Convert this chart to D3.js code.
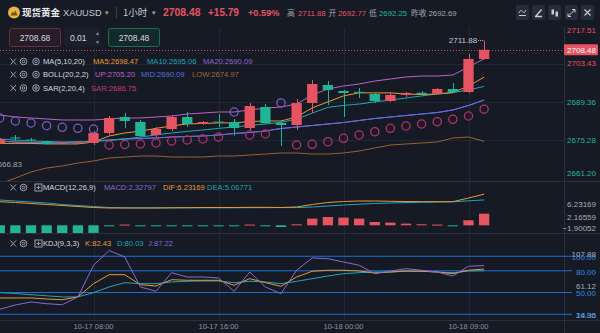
<!DOCTYPE html>
<html><head><meta charset="utf-8">
<script src="https://cdn.jsdelivr.net/npm/d3@7"></script>
<style>
html,body{margin:0;padding:0;background:#161a25;}
svg{display:block;font-family:"Liberation Sans",Arial,"Noto Sans CJK SC",sans-serif;}
</style></head>
<body><svg id="c" width="600" height="333"></svg>
<script>
// ---- hourly XAUUSD candles ----
const times = ["10-17 01:00","10-17 02:00","10-17 03:00","10-17 04:00","10-17 06:00","10-17 07:00",
  "10-17 08:00","10-17 09:00","10-17 10:00","10-17 11:00","10-17 12:00","10-17 13:00","10-17 14:00",
  "10-17 15:00","10-17 16:00","10-17 17:00","10-17 18:00","10-17 19:00","10-17 20:00","10-17 21:00",
  "10-17 22:00","10-17 23:00","10-18 00:00","10-18 01:00","10-18 02:00","10-18 03:00","10-18 04:00",
  "10-18 06:00","10-18 07:00","10-18 08:00","10-18 09:00","10-18 10:00"];
const opens  = [2674.34,2676.36,2675.60,2674.90,2674.10,2674.40,2674.34,2678.00,2683.87,2682.03,2677.27,2679.47,2683.87,2681.30,2682.20,2682.03,2679.84,2687.53,2681.67,2680.94,2688.99,2695.59,2693.39,2693.10,2692.29,2689.73,2691.95,2692.77,2692.40,2694.12,2693.02,2705.11];
const highs  = [2676.17,2677.27,2676.20,2675.20,2674.80,2675.00,2678.74,2684.23,2685.33,2682.77,2680.20,2684.60,2685.70,2682.40,2684.96,2683.13,2688.99,2688.63,2682.77,2690.46,2697.42,2697.05,2693.76,2694.49,2692.66,2693.02,2693.02,2693.30,2694.50,2696.32,2706.94,2711.88];
const lows   = [2673.98,2675.07,2674.90,2673.80,2673.80,2674.00,2673.61,2677.27,2679.84,2676.54,2676.54,2678.74,2680.20,2680.94,2680.20,2677.00,2679.10,2681.30,2673.24,2679.10,2685.33,2688.26,2683.87,2690.83,2688.99,2689.36,2691.20,2692.25,2692.30,2692.60,2692.60,2704.90];
const closes = [2675.81,2676.00,2675.30,2674.00,2674.40,2674.50,2678.00,2683.50,2682.40,2676.91,2679.47,2683.87,2681.30,2682.03,2681.85,2679.84,2687.89,2681.67,2680.94,2688.99,2695.95,2693.76,2692.66,2692.85,2689.73,2691.92,2692.69,2692.30,2694.12,2693.02,2705.11,2708.48];

// ---- overlays ----
const ma5  = [2674.2,2674.2,2674.2,2674.0,2674.0,2674.0,2674.7,2676.9,2678.0,2678.7,2679.7,2680.6,2681.3,2681.5,2681.7,2681.7,2682.2,2682.4,2682.4,2683.9,2687.2,2689.4,2691.6,2692.7,2692.7,2692.7,2692.3,2692.1,2692.3,2692.8,2695.2,2698.47];
const ma10 = [2675.8,2675.4,2675.1,2674.9,2674.7,2674.7,2674.9,2675.3,2675.8,2676.5,2677.3,2678.0,2678.6,2679.1,2679.7,2680.2,2680.8,2681.3,2681.9,2683.1,2685.3,2687.4,2688.1,2688.6,2689.4,2690.1,2690.8,2691.6,2692.3,2692.8,2693.8,2695.06];
const ma20 = [2675.07,2674.71,2674.52,2674.34,2674.52,2674.71,2675.07,2675.44,2675.81,2675.99,2676.17,2676.54,2676.72,2676.91,2677.27,2677.82,2678.19,2678.74,2679.65,2680.20,2680.75,2681.30,2681.85,2682.58,2683.32,2683.87,2684.42,2684.96,2685.51,2686.43,2688.08,2690.09];
const bollMid = ma20;
const bollUp  = [2684.60,2683.87,2683.50,2683.13,2682.77,2682.77,2682.77,2683.13,2683.50,2683.50,2683.87,2684.23,2684.96,2685.33,2685.70,2685.70,2686.43,2687.16,2687.53,2688.63,2691.92,2694.12,2695.22,2695.95,2697.05,2697.78,2698.52,2698.88,2698.88,2699.25,2702.18,2705.20];
const bollLow = [2659.32,2661.52,2663.72,2665.18,2665.92,2667.02,2667.75,2668.85,2669.21,2669.58,2669.58,2669.21,2669.21,2669.21,2669.58,2669.58,2669.95,2670.31,2670.68,2670.68,2670.31,2670.31,2670.68,2671.41,2672.51,2673.61,2673.98,2674.34,2674.71,2676.17,2676.54,2674.97];
const sar = [2683.50,2682.40,2681.67,2680.68,2680.09,2679.73,2679.47,2673.61,2673.79,2673.98,2674.34,2675.07,2675.44,2675.81,2676.54,2685.70,2677.27,2677.64,2689.00,2673.61,2673.87,2674.82,2676.06,2677.27,2678.48,2679.73,2680.57,2681.30,2682.14,2683.02,2684.23,2686.75];

// ---- MACD(12,26,9) ----
const macdHist = [-1.62,-1.58,-1.55,-1.57,-1.60,-1.56,-1.52,-0.15,0.15,-0.15,-0.15,-0.10,-0.10,-0.10,-0.10,-0.15,0.15,-0.10,-0.35,0.20,1.34,1.66,1.54,1.34,0.66,0.54,0.34,0.20,0.14,-0.20,1.00,2.32797];
const dif = [4.72,4.56,4.36,4.16,3.96,3.76,3.56,3.46,3.46,3.46,3.46,3.50,3.52,3.56,3.56,3.56,3.60,3.60,3.56,3.66,4.16,4.56,4.76,4.86,4.86,4.80,4.76,4.72,4.72,4.72,5.46,6.23169];
const dea = [5.06,4.86,4.66,4.46,4.16,3.96,3.76,3.56,3.50,3.50,3.50,3.50,3.50,3.50,3.50,3.51,3.52,3.53,3.54,3.54,3.66,3.86,4.06,4.22,4.36,4.46,4.54,4.60,4.66,4.70,4.90,5.06771];

// ---- KDJ(9,3,3) ----
const kLine = [42.5,42.5,42.5,41.1,40.1,43.9,62.2,74.6,74.6,60.8,59.0,67.7,66.9,66.9,66.9,60.0,69.1,63.6,58.6,71.4,79.3,80.7,80.7,79.7,77.0,78.3,79.7,79.3,78.3,76.0,80.7,82.43];
const dLine = [49.8,48.7,47.0,45.5,43.9,43.9,49.8,57.7,63.6,62.2,62.2,64.6,65.5,65.9,65.9,63.6,65.5,64.6,62.2,65.5,69.1,72.8,76.0,77.4,78.3,78.3,79.3,79.3,78.3,77.4,79.7,80.03];
const jLine = [26.9,32.8,37.0,34.6,33.2,43.9,87.6,107.88,99.0,57.7,51.7,77.4,71.4,71.4,70.1,51.7,78.3,57.7,48.4,80.7,97.7,96.7,92.1,87.6,76.0,79.7,82.9,80.7,78.3,72.8,86.2,87.22];

// ---- axes ----
const priceTicks = [2717.51, 2703.43, 2689.36, 2675.28, 2661.20];
const macdTicks  = [6.23169, 2.16559, -1.90052];
const kdjLevels  = [100, 80, 50, 20];
const kdjTicks   = [107.88, 61.12, 14.36];
const timeTicks  = ["10-17 08:00","10-17 16:00","10-18 00:00","10-18 09:00"];

// ---- quote header ----
const quoteLast = 2708.48, quoteChg = 15.79, quotePct = 0.59;
const quoteHigh = 2711.88, quoteOpen = 2692.77, quoteLow = 2692.25, quotePrev = 2692.69;
const bidAsk = ["2708.68", "0.01", "2708.48"];
const rangeLow = 2666.83;

const C = {
  bg:"#161a25", grid:"#212634", sep:"#2a2f3b", text:"#d3d6dd", dim:"#8d929e",
  up:"#e65461", down:"#21b495",
  ma5:"#e49a38", ma10:"#1ea6b9", ma20:"#8a67d4", bUp:"#bf5fc6", bMid:"#5a6ee0", bLow:"#9b6030",
  sarBelow:"#b8306c", sarAbove:"#7a5cc4", kdjBlue:"#1f6fd1", kdjBlueTxt:"#2f8be6"
};

const svg = d3.select("#c");
const PW = 564;                        // plot width (right axis starts here)
const P = {main:[27,181], macd:[181,233], kdj:[233,320]};
const n = times.length, last = n - 1;

const x = d3.scalePoint().domain(times).range([-0.25, 484.125]);
const step = x.step();
const bw = step * 0.66;
const yM = d3.scaleLinear().domain([2660.79, 2717.93]).range([180, 24]);
const yD = d3.scaleLinear().domain([-1.54, 8.86]).range([233, 181]);
const yK = d3.scaleLinear().domain([12.1, 132.1]).range([320, 233]);
// right-axis label placement for the indicator panes
const yDLabel = d3.scaleLinear().domain([6.23169, -1.90052]).range([204, 231]);
const yKLabel = d3.scaleLinear().domain([107.88, 14.36]).range([254.5, 317]);

svg.append("rect").attr("width",600).attr("height",333).attr("fill",C.bg);

const defs = svg.append("defs");
Object.entries(P).forEach(([k,[a,b]]) => {
  defs.append("clipPath").attr("id","clip-"+k).append("rect")
    .attr("x",0).attr("y",a).attr("width",PW).attr("height",b-a);
});

// ---- grid ----
const grid = svg.append("g");
timeTicks.forEach(t => {
  grid.append("line").attr("x1",Math.round(x(t))+0.5).attr("x2",Math.round(x(t))+0.5).attr("y1",27).attr("y2",320)
    .attr("stroke",C.grid).attr("stroke-width",1);
});
priceTicks.slice(1,4).forEach(v => {
  grid.append("line").attr("x1",0).attr("x2",PW).attr("y1",Math.round(yM(v))+0.5).attr("y2",Math.round(yM(v))+0.5)
    .attr("stroke",C.grid);
});
[181,233,320].forEach(yy => grid.append("line").attr("x1",0).attr("x2",600)
  .attr("y1",yy+0.5).attr("y2",yy+0.5).attr("stroke",C.sep));
grid.append("line").attr("x1",PW+0.5).attr("x2",PW+0.5).attr("y1",27).attr("y2",333).attr("stroke",C.sep);

// ---- main pane ----
const gMain = svg.append("g").attr("clip-path","url(#clip-main)");
const lineOf = (arr, ys) => d3.line().x((d,i)=>x(times[i])).y(d=>ys(d))(arr);
const drawLine = (g, arr, ys, col, w=1) => g.append("path").attr("d",lineOf(arr,ys))
  .attr("fill","none").attr("stroke",col).attr("stroke-width",w).attr("stroke-linejoin","round");

drawLine(gMain, bollLow, yM, C.bLow);
drawLine(gMain, bollUp, yM, C.bUp);
drawLine(gMain, ma20, yM, C.ma20);
drawLine(gMain, bollMid, yM, C.bMid);
drawLine(gMain, ma10, yM, C.ma10);
drawLine(gMain, ma5, yM, C.ma5);

// current price line
gMain.append("line").attr("x1",0).attr("x2",PW)
  .attr("y1",Math.round(yM(closes[last]))+0.5).attr("y2",Math.round(yM(closes[last]))+0.5)
  .attr("stroke",C.up).attr("stroke-dasharray","1,2").attr("opacity",0.85);

// candles
const candles = gMain.selectAll("g.c").data(times).join("g");
candles.each(function(t,i){
  const g = d3.select(this);
  const col = closes[i] >= opens[i] ? C.up : C.down;
  const cx = Math.round(x(t)) + 0.5;
  g.append("line").attr("x1",cx).attr("x2",cx).attr("y1",yM(highs[i])).attr("y2",yM(lows[i]))
    .attr("stroke",col).attr("stroke-width",1);
  const top = yM(Math.max(opens[i],closes[i])), bot = yM(Math.min(opens[i],closes[i]));
  g.append("rect").attr("x",x(t)-bw/2).attr("y",top).attr("width",bw).attr("height",Math.max(1,bot-top))
    .attr("fill",col);
});

// SAR
gMain.selectAll("circle.sar").data(sar).join("circle")
  .attr("cx",(d,i)=>x(times[i])).attr("cy",d=>yM(d)).attr("r",4.1)
  .attr("fill","none").attr("stroke-width",1.3)
  .attr("stroke",(d,i)=> d > closes[i] ? C.sarAbove : C.sarBelow);

// high / low markers
const f2 = d3.format(".2f"), f5 = d3.format(".5f");
const hiIdx = d3.maxIndex(highs);
gMain.append("line").attr("x1",x(times[hiIdx])-6).attr("x2",x(times[hiIdx])).attr("y1",yM(highs[hiIdx])).attr("y2",yM(highs[hiIdx]))
  .attr("stroke","#b8bcc6").attr("stroke-dasharray","1,1");
gMain.append("text").attr("x",x(times[hiIdx])-7).attr("y",yM(highs[hiIdx])).attr("dy","0.35em")
  .attr("text-anchor","end").attr("font-size",8).attr("fill","#c3c7cf").text(f2(highs[hiIdx]));
gMain.append("text").attr("x",22).attr("y",yM(rangeLow)+1).attr("dy","0.35em")
  .attr("text-anchor","end").attr("font-size",8).attr("fill","#9ea3ae").text(f2(rangeLow));

// ---- MACD pane ----
const gMacd = svg.append("g").attr("clip-path","url(#clip-macd)");
gMacd.selectAll("rect").data(macdHist).join("rect")
  .attr("x",(d,i)=>x(times[i])-bw/2).attr("width",bw)
  .attr("y",d=>d>=0 ? yD(d) : yD(0))
  .attr("height",d=>Math.max(1, Math.abs(yD(d)-yD(0))))
  .attr("fill",d=> d>=0 ? C.up : C.down);
drawLine(gMacd, dea, yD, C.ma10);
drawLine(gMacd, dif, yD, C.ma5);

// ---- KDJ pane ----
const gKdj = svg.append("g").attr("clip-path","url(#clip-kdj)");
kdjLevels.forEach(v => gKdj.append("line").attr("x1",0).attr("x2",PW)
  .attr("y1",yK(v)).attr("y2",yK(v)).attr("stroke",C.kdjBlue).attr("stroke-width",1));
svg.append("g").selectAll("line").data(kdjLevels).join("line")
  .attr("x1",PW).attr("x2",572).attr("y1",d=>yK(d)).attr("y2",d=>yK(d)).attr("stroke",C.kdjBlue);
drawLine(gKdj, dLine, yK, C.ma10);
drawLine(gKdj, kLine, yK, C.ma5);
drawLine(gKdj, jLine, yK, C.ma20);

// ---- right axis ----
const ax = svg.append("g").attr("font-size",8).attr("text-anchor","end");
priceTicks.forEach(v => {
  const yy = Math.min(173, Math.max(30, yM(v)));
  ax.append("text").attr("x",596).attr("y",yy).attr("dy","0.35em")
    .attr("fill", v > quotePrev ? C.up : C.down).text(f2(v));
});
macdTicks.forEach(v => {
  ax.append("text").attr("x",596).attr("y",Math.min(228.5, yDLabel(v))).attr("dy","0.35em")
    .attr("fill","#a9adb7").text(f5(v));
});
kdjTicks.forEach(v => {
  ax.append("text").attr("x",596).attr("y",Math.min(315, yKLabel(v))).attr("dy","0.35em")
    .attr("fill","#a9adb7").text(f2(v));
});
kdjLevels.forEach(v => {
  ax.append("text").attr("x",596).attr("y",yK(v)+1).attr("dy","0.35em")
    .attr("fill",C.kdjBlueTxt).text(f2(v));
});
// last price tag
const tagY = yM(closes[last]);
ax.append("rect").attr("x",PW).attr("y",tagY-5.5).attr("width",34).attr("height",11).attr("rx",1).attr("fill",C.up);
ax.append("text").attr("x",596).attr("y",tagY).attr("dy","0.35em").attr("fill","#fff").text(f2(closes[last]));

// ---- time axis ----
svg.append("g").selectAll("text").data(timeTicks).join("text")
  .attr("x",d=>x(d)).attr("y",326.5).attr("dy","0.35em").attr("text-anchor","middle")
  .attr("font-size",7.5).attr("fill",C.dim).text(d=>d);

// ---- header ----
const hdr = svg.append("g");
hdr.append("rect").attr("width",600).attr("height",27).attr("fill",C.bg);
hdr.append("circle").attr("cx",14).attr("cy",12.5).attr("r",6).attr("fill","#e7b24a");
hdr.append("path").attr("d","M10.5,15.5 L12.5,11.5 L14,13 L15.5,10.5 L17.5,15.5 Z").attr("fill","#7a5412");
const ht = (xx, s, col, size, weight, fam) => hdr.append("text").attr("x",xx).attr("y",12.8).attr("dy","0.35em")
  .attr("font-size",size).attr("font-weight",weight||"normal").attr("fill",col)
  .attr("font-family",fam||null).text(s);
ht(22, "现货黄金", "#e9ebf0", 9.5, "bold", "Noto Sans CJK SC");
ht(63, "XAUUSD", "#c4c8d0", 9.3);
ht(105, "▾", "#9ca1ac", 7);
hdr.append("line").attr("x1",116.5).attr("x2",116.5).attr("y1",7).attr("y2",19).attr("stroke","#3a3f4b");
ht(123, "1小时", "#c4c8d0", 9.5, null, "Noto Sans CJK SC");
ht(152, "▾", "#9ca1ac", 7);
ht(163, f2(quoteLast), C.up, 10.4, "bold");
ht(208, "+" + f2(quoteChg), C.up, 10, "bold");
ht(248, "+" + f2(quotePct) + "%", C.up, 9.2, "bold");
ht(287, "高", "#a3a8b2", 7.8, null, "Noto Sans CJK SC");
ht(298, f2(quoteHigh), C.up, 7.8);
ht(328.5, "开", "#a3a8b2", 7.8, null, "Noto Sans CJK SC");
ht(338, f2(quoteOpen), C.up, 7.8);
ht(369, "低", "#a3a8b2", 7.8, null, "Noto Sans CJK SC");
ht(379, f2(quoteLow), C.down, 7.8);
ht(411, "昨收", "#a3a8b2", 7.8, null, "Noto Sans CJK SC");
ht(428.5, f2(quotePrev), "#a3a8b2", 7.8);

// toolbar buttons
const btnX = [516, 532, 548, 565, 581];
btnX.forEach((bx, i) => {
  const g = hdr.append("g").attr("transform",`translate(${bx},5)`);
  g.append("rect").attr("width",13).attr("height",15).attr("rx",2).attr("fill","#272c3a");
  const s = "#c9ccd4";
  if (i===0) { g.append("path").attr("d","M3,8 Q4.5,4 6.5,6.5 T10,5 M3,10.5 H10").attr("stroke",s).attr("fill","none"); }
  if (i===1) { g.append("path").attr("d","M4,11 L9.5,4.5 M3,11.5 H10").attr("stroke",s).attr("stroke-width",1.4).attr("fill","none"); }
  if (i===2) { g.append("rect").attr("x",3.5).attr("y",4.5).attr("width",2.5).attr("height",5).attr("fill",s);
               g.append("rect").attr("x",7.5).attr("y",6.5).attr("width",2.5).attr("height",5).attr("fill",s); }
  if (i===3) { g.append("path").attr("d","M3.5,11 L9.5,5 M7,4.5 H10 V7.5 M3,8.5 V11.5 H6").attr("stroke",s).attr("fill","none"); }
  if (i===4) { g.append("path").attr("d","M3.5,4.5 L9.5,10.5 M9.5,4.5 L3.5,10.5").attr("stroke",s).attr("stroke-width",1.2).attr("fill","none"); }
});

// bid / step / ask boxes
const boxes = svg.append("g").attr("font-size",8.5);
boxes.append("rect").attr("x",9.5).attr("y",28.5).attr("width",51).attr("height",18).attr("rx",2)
  .attr("fill","#261d27").attr("stroke","#6b2d3a");
boxes.append("text").attr("x",35).attr("y",38).attr("dy","0.35em").attr("text-anchor","middle").attr("fill","#d5d8de").text(bidAsk[0]);
boxes.append("rect").attr("x",64.5).attr("y",28.5).attr("width",36).attr("height",18).attr("rx",2).attr("fill","#1c202c");
boxes.append("text").attr("x",70).attr("y",38).attr("dy","0.35em").attr("fill","#d5d8de").text(bidAsk[1]);
boxes.append("text").attr("x",97.5).attr("y",33.5).attr("dy","0.35em").attr("text-anchor","middle").attr("font-size",5).attr("fill","#8d929e").text("▲");
boxes.append("text").attr("x",97.5).attr("y",42.5).attr("dy","0.35em").attr("text-anchor","middle").attr("font-size",5).attr("fill","#8d929e").text("▼");
boxes.append("rect").attr("x",108.5).attr("y",28.5).attr("width",51).attr("height",18).attr("rx",2)
  .attr("fill","#142a28").attr("stroke","#1d6a5a");
boxes.append("text").attr("x",134).attr("y",38).attr("dy","0.35em").attr("text-anchor","middle").attr("fill","#d5d8de").text(bidAsk[2]);

// ---- legends ----
function legendRow(yy, withBox, parts) {
  const g = svg.append("g").attr("font-size",7.6);
  const ic = "#9ca1ac";
  g.append("path").attr("d",`M10.5,${yy-3} L16,${yy+3} M16,${yy-3} L10.5,${yy+3}`).attr("stroke",ic).attr("stroke-width",1);
  g.append("circle").attr("cx",23.5).attr("cy",yy).attr("r",3.3).attr("fill","none").attr("stroke",ic);
  g.append("circle").attr("cx",23.5).attr("cy",yy).attr("r",1.3).attr("fill","none").attr("stroke",ic);
  if (withBox) {
    g.append("rect").attr("x",35).attr("y",yy-3.5).attr("width",7).attr("height",7).attr("fill","none").attr("stroke",ic);
    g.append("path").attr("d",`M36.5,${yy} H40.5 M38.5,${yy-2} V${yy+2}`).attr("stroke",ic);
  } else {
    g.append("circle").attr("cx",36).attr("cy",yy).attr("r",3.3).attr("fill","none").attr("stroke",ic);
    g.append("circle").attr("cx",36).attr("cy",yy).attr("r",1.3).attr("fill","none").attr("stroke",ic);
  }
  parts.forEach(([xx, s, col]) => g.append("text").attr("x",xx).attr("y",yy).attr("dy","0.35em").attr("fill",col).text(s));
}
legendRow(61.5, false, [[43,"MA(5,10,20)","#d6d9df"],[93,"MA5:"+f2(ma5[last]),C.ma5],[147,"MA10:"+f2(ma10[last]),C.ma10],[203,"MA20:"+f2(ma20[last]),C.ma20]]);
legendRow(74.5, false, [[43,"BOLL(20,2,2)","#d6d9df"],[95,"UP:"+f2(bollUp[last]),C.bUp],[141,"MID:"+f2(bollMid[last]),C.bMid],[192,"LOW:"+f2(bollLow[last]),"#a5683a"]]);
legendRow(88, false, [[43,"SAR(2,20,4)","#d6d9df"],[91,"SAR:"+f2(sar[last]),"#c8387a"]]);
legendRow(187.5, true, [[43,"MACD(12,26,9)","#d6d9df"],[104,"MACD:"+f5(macdHist[last]),C.ma20],[163,"DIF:"+f5(dif[last]),C.ma5],[207,"DEA:"+f5(dea[last]),C.ma10]]);
legendRow(243.5, true, [[43,"KDJ(9,3,3)","#d6d9df"],[85,"K:"+f2(kLine[last]),C.ma5],[117,"D:"+f2(dLine[last]),C.ma10],[148,"J:"+f2(jLine[last]),C.ma20]]);
</script>
</body></html>
